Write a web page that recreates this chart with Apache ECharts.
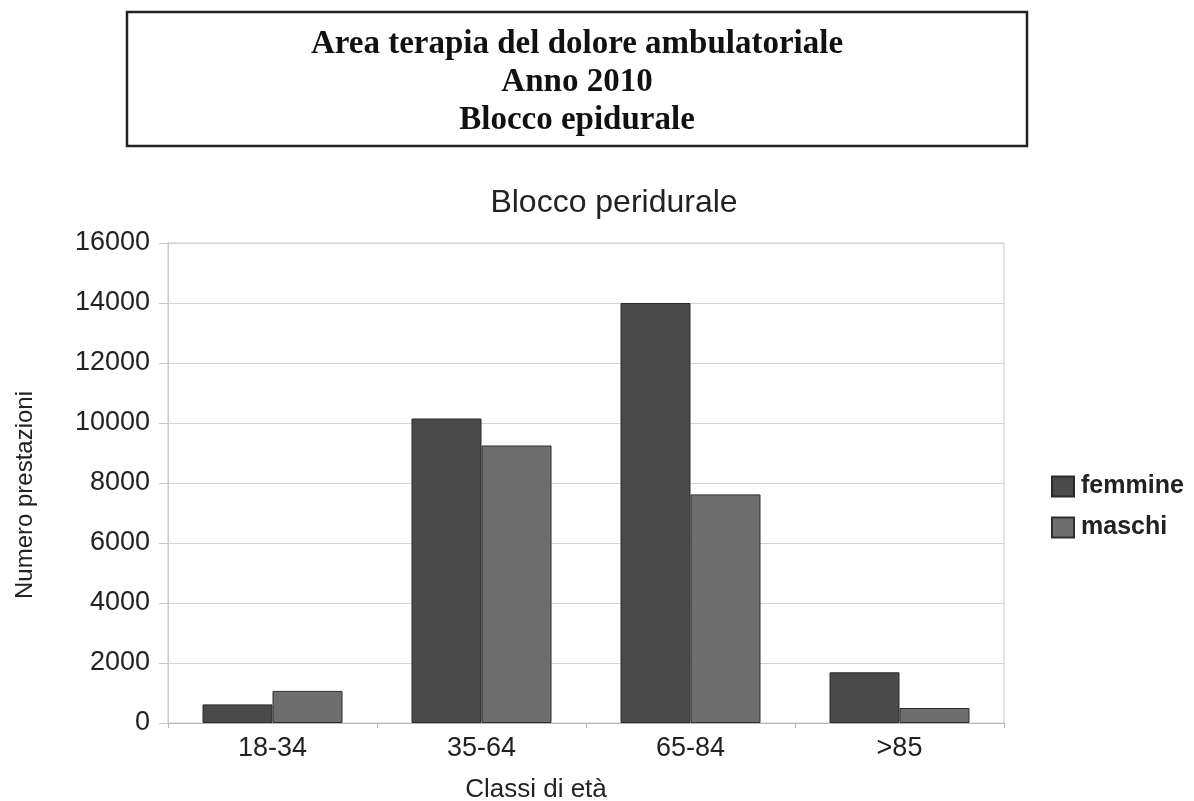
<!DOCTYPE html>
<html>
<head>
<meta charset="utf-8">
<script src="https://cdn.jsdelivr.net/npm/echarts@6/dist/echarts.min.js"></script>
<style>
  html, body { margin: 0; padding: 0; background: #fff; }
  #chart { width: 1194px; height: 801px; }
</style>
</head>
<body>
<div id="chart"></div>
<script>
// dati
var classi = ['18-34', '35-64', '65-84', '>85'];
var femmine = [620, 10150, 14000, 1690];
var maschi = [1070, 9250, 7620, 500];
var titoloRighe = ['Area terapia del dolore ambulatoriale', 'Anno 2010', 'Blocco epidurale'];

var chart = echarts.init(document.getElementById('chart'));

var font = '"Liberation Sans", Arial, sans-serif';

var option = {
    backgroundColor: '#fff',
    animation: false,
    title: {
        text: 'Blocco peridurale',
        left: 609,
        top: 182,
        textAlign: 'center',
        textStyle: { fontFamily: font, fontSize: 32, fontWeight: 'normal', color: '#222' }
    },
    legend: {
        data: ['femmine', 'maschi'],
        orient: 'vertical',
        left: 1046,
        top: 469,
        itemWidth: 22,
        itemHeight: 20,
        itemGap: 16,
        icon: 'rect',
        textStyle: { fontFamily: font, fontSize: 25, fontWeight: 'bold', color: '#222', padding: [0, 0, 0, 2] }
    },
    grid: {
        left: 168,
        right: 190,
        top: 243,
        bottom: 78,
        show: true,
        borderColor: '#c8c8c8',
        borderWidth: 1
    },
    xAxis: {
        type: 'category',
        data: classi,
        axisLine: { lineStyle: { color: '#b8b8b8' } },
        axisTick: { show: true, length: 5, lineStyle: { color: '#b8b8b8' } },
        axisLabel: { fontFamily: font, fontSize: 27, color: '#222', margin: 12 }
    },
    yAxis: {
        type: 'value',
        min: 0,
        max: 16000,
        interval: 2000,
        axisLine: { show: true, lineStyle: { color: '#c8c8c8' } },
        axisTick: { show: true, length: 9, lineStyle: { color: '#c8c8c8' } },
        splitLine: { lineStyle: { color: '#d4d4d4' } },
        axisLabel: {
            fontFamily: font, fontSize: 27, color: '#222', margin: 18,
            formatter: function (v) { return String(v); }
        }
    },
    series: [
        {
            name: 'femmine',
            type: 'bar',
            data: femmine,
            barWidth: 70,
            barGap: '0%',
            itemStyle: { color: '#4a4a4a', borderColor: '#2a2a2a', borderWidth: 1 }
        },
        {
            name: 'maschi',
            type: 'bar',
            data: maschi,
            barWidth: 70,
            itemStyle: { color: '#6e6e6e', borderColor: '#2e2e2e', borderWidth: 1 }
        }
    ],
    graphic: [
        {
            type: 'rect',
            shape: { x: 127, y: 12, width: 900, height: 134 },
            style: { fill: '#fff', stroke: '#222', lineWidth: 2.5 }
        },
        {
            type: 'text',
            x: 577, y: 25,
            style: {
                text: titoloRighe.join('\n'),
                fill: '#111',
                font: 'bold 33px "Liberation Serif", "Times New Roman", serif',
                lineHeight: 38,
                textAlign: 'center'
            }
        },
        {
            type: 'text',
            x: 25, y: 495,
            rotation: Math.PI / 2,
            style: {
                text: 'Numero prestazioni',
                fill: '#222',
                font: '24px "Liberation Sans", Arial, sans-serif',
                textAlign: 'center',
                textVerticalAlign: 'middle'
            }
        },
        {
            type: 'text',
            x: 536, y: 790,
            style: {
                text: 'Classi di età',
                fill: '#222',
                font: '26px "Liberation Sans", Arial, sans-serif',
                textAlign: 'center',
                textVerticalAlign: 'middle'
            }
        }
    ]
};

chart.setOption(option);
</script>
</body>
</html>
